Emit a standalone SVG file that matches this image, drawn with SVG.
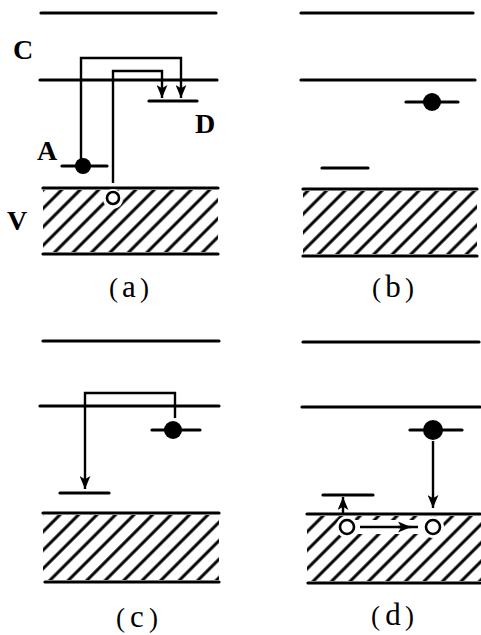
<svg xmlns="http://www.w3.org/2000/svg" width="481" height="635" viewBox="0 0 481 635">
<style>
.edge{stroke:#000;stroke-width:3.2;stroke-linecap:round;fill:none}
.lvl{stroke:#000;stroke-width:3.2;stroke-linecap:round;fill:none}
.tr{stroke:#000;stroke-width:2.4;fill:none}
.el{fill:#000}
.hole{fill:#fff;stroke:#000;stroke-width:2.6}
.halo{fill:#fff}
.lab{font-family:"Liberation Serif","Times New Roman",serif;font-size:28px;font-weight:bold;fill:#000}
.cap{font-family:"Liberation Serif","Times New Roman",serif;font-size:27px;fill:#000}
.cl{font-size:31px}
</style>
<defs>
<pattern id="hA" patternUnits="userSpaceOnUse" width="13.08" height="10" patternTransform="translate(1.75,0) rotate(45)"><line x1="6.54" y1="-2" x2="6.54" y2="12" stroke="#000" stroke-width="3"/></pattern>
<pattern id="hB" patternUnits="userSpaceOnUse" width="13.08" height="10" patternTransform="translate(8.45,0) rotate(45)"><line x1="6.54" y1="-2" x2="6.54" y2="12" stroke="#000" stroke-width="3"/></pattern>
<pattern id="hC" patternUnits="userSpaceOnUse" width="13.08" height="10" patternTransform="translate(-7.95,0) rotate(45)"><line x1="6.54" y1="-2" x2="6.54" y2="12" stroke="#000" stroke-width="3"/></pattern>
<pattern id="hD" patternUnits="userSpaceOnUse" width="13.08" height="10" patternTransform="translate(-2.75,0) rotate(45)"><line x1="6.54" y1="-2" x2="6.54" y2="12" stroke="#000" stroke-width="3"/></pattern>
<marker id="arr" viewBox="0 0 12 10" markerWidth="13" markerHeight="11" refX="12" refY="5" orient="auto" markerUnits="userSpaceOnUse"><path d="M0,0 L12,5 L0,10 L3,5 z" fill="#000"/></marker>
</defs>
<rect width="481" height="635" fill="#fff"/>

<!-- Panel (a) -->
<g id="panel-a">
  <g id="a-bands">
    <line class="edge" x1="41" y1="13" x2="216" y2="13"/>
    <line class="edge" x1="40" y1="80" x2="217" y2="80"/>
    <rect x="43" y="190" width="175" height="62" fill="url(#hA)"/>
    <line class="edge" x1="43" y1="188" x2="218" y2="188"/>
    <line class="edge" x1="43" y1="254" x2="218" y2="254"/>
  </g>
  <g id="a-donor"><line class="lvl" x1="149" y1="101" x2="197" y2="101"/></g>
  <g id="a-acceptor"><line class="lvl" x1="62" y1="166" x2="107" y2="166"/><circle class="el" cx="83" cy="166" r="8"/></g>
  <g id="a-hole"><circle class="halo" cx="113" cy="199" r="10"/><circle class="hole" cx="113" cy="198" r="6"/></g>
  <text class="lab" x="13" y="59">C</text>
  <text class="lab" x="37" y="160">A</text>
  <text class="lab" x="195" y="133">D</text>
  <text class="lab" x="7" y="230">V</text>
  <text class="cap" y="297"><tspan x="109">(</tspan><tspan class="cl" x="129" text-anchor="middle">a</tspan><tspan x="149" text-anchor="end">)</tspan></text>
</g>

<!-- Panel (b) -->
<g id="panel-b">
  <g id="b-bands">
    <line class="edge" x1="301" y1="13" x2="473" y2="13"/>
    <line class="edge" x1="301" y1="80" x2="475" y2="80"/>
    <rect x="303" y="191" width="174" height="63" fill="url(#hB)"/>
    <line class="edge" x1="303" y1="189" x2="477" y2="189"/>
    <line class="edge" x1="303" y1="256" x2="477" y2="256"/>
  </g>
  <g id="b-donor"><line class="lvl" x1="406" y1="102" x2="458" y2="102"/><circle class="el" cx="432" cy="102" r="9"/></g>
  <g id="b-acceptor"><line class="lvl" x1="322" y1="168" x2="368" y2="168"/></g>
  <text class="cap" y="297"><tspan x="372">(</tspan><tspan class="cl" x="393" text-anchor="middle">b</tspan><tspan x="414" text-anchor="end">)</tspan></text>
</g>

<!-- Panel (c) -->
<g id="panel-c">
  <g id="c-bands">
    <line class="edge" x1="43" y1="341" x2="219" y2="341"/>
    <line class="edge" x1="40" y1="406" x2="219" y2="406"/>
    <rect x="43" y="515" width="176" height="65" fill="url(#hC)"/>
    <line class="edge" x1="43" y1="513" x2="219" y2="513"/>
    <line class="edge" x1="45" y1="582" x2="219" y2="582"/>
  </g>
  <g id="c-donor"><line class="lvl" x1="152" y1="430" x2="200" y2="430"/><circle class="el" cx="173" cy="430" r="9"/></g>
  <g id="c-acceptor"><line class="lvl" x1="60" y1="493" x2="109" y2="493"/></g>
  <text class="cap" y="627"><tspan x="116">(</tspan><tspan class="cl" x="137" text-anchor="middle">c</tspan><tspan x="158" text-anchor="end">)</tspan></text>
</g>

<!-- Panel (d) -->
<g id="panel-d">
  <g id="d-bands">
    <line class="edge" x1="303" y1="342" x2="479" y2="342"/>
    <line class="edge" x1="302" y1="407" x2="480" y2="407"/>
    <rect x="307" y="516" width="174" height="65" fill="url(#hD)"/>
    <line class="edge" x1="307" y1="514" x2="480" y2="514"/>
    <line class="edge" x1="308" y1="583" x2="480" y2="583"/>
  </g>
  <g id="d-donor"><line class="lvl" x1="410" y1="430" x2="462" y2="430"/><circle class="el" cx="433" cy="430" r="10"/></g>
  <g id="d-acceptor"><line class="lvl" x1="323" y1="495" x2="373" y2="495"/></g>
  <rect class="halo" x="354" y="520" width="72" height="14"/>
  <g id="d-hole1"><circle class="halo" cx="347" cy="527" r="11"/><circle class="hole" cx="347" cy="527" r="7"/></g>
  <g id="d-hole2"><circle class="halo" cx="433" cy="527" r="11"/><circle class="hole" cx="433" cy="527" r="7"/></g>
  <text class="cap" y="625"><tspan x="371">(</tspan><tspan class="cl" x="393" text-anchor="middle">d</tspan><tspan x="414" text-anchor="end">)</tspan></text>
</g>

<!-- Connectors -->
<g id="connectors">
  <polyline class="tr" points="81,162 81,58 181,58 181,98" marker-end="url(#arr)"/>
  <polyline class="tr" points="113,183 113,71 162,71 162,98" marker-end="url(#arr)"/>
  <polyline class="tr" points="175,418 175,393 85,393 85,489" marker-end="url(#arr)"/>
  <line class="tr" x1="433" y1="441" x2="433" y2="508" marker-end="url(#arr)"/>
  <line class="tr" x1="343" y1="513" x2="343" y2="497" marker-end="url(#arr)"/>
  <line class="tr" x1="360" y1="527" x2="418" y2="527"/>
  <line class="tr" x1="398" y1="527" x2="411" y2="527" marker-end="url(#arr)"/>
</g>
</svg>
